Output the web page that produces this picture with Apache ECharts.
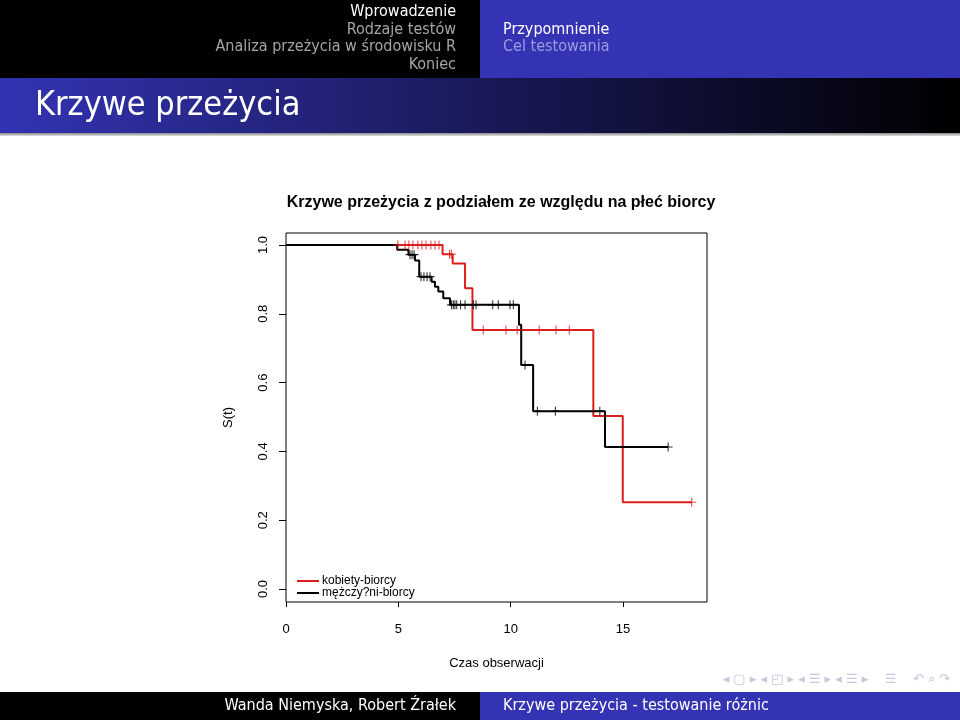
<!DOCTYPE html>
<html><head><meta charset="utf-8">
<script src="https://cdn.jsdelivr.net/npm/echarts@6/dist/echarts.min.js"></script>
<style>html,body{margin:0;padding:0;background:#fff}#c{width:960px;height:720px}</style>
</head><body><div id="c"></div>
<script>
const chartTitle = 'Krzywe przeżycia z podziałem ze względu na płeć biorcy';
const seriesNames = ['kobiety-biorcy', 'mężczy?ni-biorcy'];
const xAxisName = 'Czas obserwacji';
const yAxisName = 'S(t)';
const xTicks = [0, 5, 10, 15];
const yTicks = [0, 0.2, 0.4, 0.6, 0.8, 1.0];

// Kaplan-Meier steps (time of change, survival after change)
const redTimes = [0, 6.97, 7.42, 7.97, 8.30, 13.68, 14.99, 18.06];
const redSurv  = [1, 0.973, 0.946, 0.874, 0.753, 0.503, 0.252, 0.252];
const blackTimes = [0, 4.95, 5.45, 5.74, 5.93, 6.48, 6.63, 6.78, 7.00, 7.30, 10.37, 10.47, 11.00, 14.20, 17.01];
const blackSurv  = [1, 0.986, 0.972, 0.955, 0.908, 0.893, 0.879, 0.865, 0.845, 0.826, 0.768, 0.651, 0.517, 0.413, 0.413];

// censored observations
const redCensT = [4.98, 5.30, 5.47, 5.65, 5.87, 6.05, 6.23, 6.45, 6.63, 6.81, 7.28, 7.36, 8.78, 9.79, 10.29, 11.27, 12.02, 12.61, 18.06];
const redCensS = [1, 1, 1, 1, 1, 1, 1, 1, 1, 1, 0.973, 0.973, 0.753, 0.753, 0.753, 0.753, 0.753, 0.753, 0.252];
const blackCensT = [5.52, 5.61, 5.70, 6.01, 6.14, 6.28, 6.41, 7.37, 7.45, 7.52, 7.60, 7.77, 7.97, 8.34, 8.46, 9.20, 9.45, 9.97, 10.12, 10.64, 11.19, 11.99, 13.97, 17.01];
const blackCensS = [0.972, 0.972, 0.972, 0.908, 0.908, 0.908, 0.908, 0.826, 0.826, 0.826, 0.826, 0.826, 0.826, 0.826, 0.826, 0.826, 0.826, 0.826, 0.826, 0.651, 0.517, 0.517, 0.517, 0.413];

const headerLeft = ['Wprowadzenie', 'Rodzaje testów', 'Analiza przeżycia w środowisku R', 'Koniec'];
const headerRight = ['Przypomnienie', 'Cel testowania'];
const frameTitle = 'Krzywe przeżycia';
const footerLeft = 'Wanda Niemyska, Robert Źrałek';
const footerRight = 'Krzywe przeżycia - testowanie różnic';

const RED = '#dc1e1e';
const BLUE = '#3333b3';
const zip = (a, b) => a.map((v, i) => [v, b[i]]);
const plusPath = 'path://M4.4,0h1.2v4.4h4.4v1.2h-4.4v4.4h-1.2v-4.4h-4.4v-1.2h4.4z';
const beamerFont = '"DejaVu Sans Condensed", "DejaVu Sans", sans-serif';
const plotFont = 'Liberation Sans, Arial, sans-serif';

const chart = echarts.init(document.getElementById('c'));

const graphics = [
  {type: 'rect', shape: {x: 0, y: 0, width: 480, height: 78}, style: {fill: '#000'}, silent: true},
  {type: 'rect', shape: {x: 480, y: 0, width: 480, height: 78}, style: {fill: BLUE}, silent: true},
  {type: 'rect', shape: {x: 0, y: 78, width: 960, height: 55}, silent: true,
    style: {fill: new echarts.graphic.LinearGradient(0, 0, 1, 0, [{offset: 0, color: BLUE}, {offset: 1, color: '#000'}])}},
  {type: 'rect', shape: {x: 0, y: 133, width: 960, height: 3}, silent: true,
    style: {fill: new echarts.graphic.LinearGradient(0, 0, 0, 1, [{offset: 0, color: '#888'}, {offset: 1, color: '#e0e0e0'}])}},
  {type: 'rect', shape: {x: 0, y: 692, width: 480, height: 28}, style: {fill: '#000'}, silent: true},
  {type: 'rect', shape: {x: 480, y: 692, width: 480, height: 28}, style: {fill: BLUE}, silent: true},
  {type: 'text', silent: true, style: {text: frameTitle, x: 35, y: 106, fill: '#fff', font: '34px ' + beamerFont, textVerticalAlign: 'middle'}},
  {type: 'text', silent: true, style: {text: footerLeft, x: 456, y: 706, fill: '#fff', font: '16px ' + beamerFont, textAlign: 'right', textVerticalAlign: 'middle'}},
  {type: 'text', silent: true, style: {text: footerRight, x: 503, y: 706, fill: '#fff', font: '16px ' + beamerFont, textVerticalAlign: 'middle'}},
  {type: 'text', silent: true, style: {text: '◂ ▢ ▸ ◂ ◰ ▸ ◂ ☰ ▸ ◂ ☰ ▸    ☰    ↶ ⌕ ↷', x: 950, y: 680, fill: '#c8c8dc', font: '13px "DejaVu Sans", sans-serif', textAlign: 'right', textVerticalAlign: 'middle'}}
];
headerLeft.forEach((t, i) => graphics.push({type: 'text', silent: true,
  style: {text: t, x: 456, y: 12 + i * 17.6, fill: i === 0 ? '#fff' : '#a6a6a6', font: '16px ' + beamerFont, textAlign: 'right', textVerticalAlign: 'middle'}}));
headerRight.forEach((t, i) => graphics.push({type: 'text', silent: true,
  style: {text: t, x: 503, y: 29.6 + i * 17.6, fill: i === 0 ? '#fff' : '#9c9ce0', font: '16px ' + beamerFont, textVerticalAlign: 'middle'}}));

chart.setOption({
  animation: false,
  backgroundColor: '#fff',
  title: {text: chartTitle, left: 496, top: 190, textAlign: 'center',
    textStyle: {fontFamily: plotFont, fontWeight: 'bold', fontSize: 16, color: '#000'}},
  graphic: graphics,
  legend: {
    orient: 'vertical', left: 292, top: 570, itemGap: 0, itemWidth: 22, itemHeight: 2,
    icon: 'rect', data: seriesNames,
    textStyle: {fontFamily: plotFont, fontSize: 12, color: '#000', lineHeight: 12, padding: [0, 0, 0, -2]}
  },
  grid: {left: 286, top: 233, width: 421, height: 369, show: true, borderColor: '#000', borderWidth: 1, backgroundColor: 'transparent'},
  xAxis: {
    type: 'value', min: 0, max: 18.74,
    name: xAxisName, nameLocation: 'middle', nameGap: 55,
    nameTextStyle: {fontFamily: plotFont, fontSize: 13, color: '#000'},
    axisLine: {show: false, onZero: false},
    axisTick: {show: true, length: 5, inside: false, lineStyle: {color: '#000'}, customValues: xTicks},
    axisLabel: {margin: 21, fontFamily: plotFont, fontSize: 13, color: '#000', customValues: xTicks},
    splitLine: {show: false}
  },
  yAxis: {
    type: 'value', min: -0.0378, max: 1.0349,
    name: yAxisName, nameLocation: 'middle', nameGap: 51, nameRotate: 90,
    nameTextStyle: {fontFamily: plotFont, fontSize: 13, color: '#000'},
    axisLine: {show: false, onZero: false},
    axisTick: {show: true, length: 7, lineStyle: {color: '#000'}, customValues: yTicks},
    axisLabel: {margin: 16, rotate: 90, fontFamily: plotFont, fontSize: 13, color: '#000',
      customValues: yTicks, formatter: v => v.toFixed(1)},
    splitLine: {show: false}
  },
  series: [
    {name: seriesNames[0], type: 'line', step: 'end', symbol: 'none', data: zip(redTimes, redSurv),
      lineStyle: {color: RED, width: 2}, itemStyle: {color: RED}, z: 2},
    {name: seriesNames[1], type: 'line', step: 'end', symbol: 'none', data: zip(blackTimes, blackSurv),
      lineStyle: {color: '#000', width: 2}, itemStyle: {color: '#000'}, z: 3},
    {name: seriesNames[0] + ' cens', type: 'scatter', data: zip(redCensT, redCensS), symbol: plusPath, symbolSize: 9,
      itemStyle: {color: RED}, z: 4},
    {name: seriesNames[1] + ' cens', type: 'scatter', data: zip(blackCensT, blackCensS), symbol: plusPath, symbolSize: 9,
      itemStyle: {color: '#000'}, z: 5}
  ]
});
</script>
</body></html>
